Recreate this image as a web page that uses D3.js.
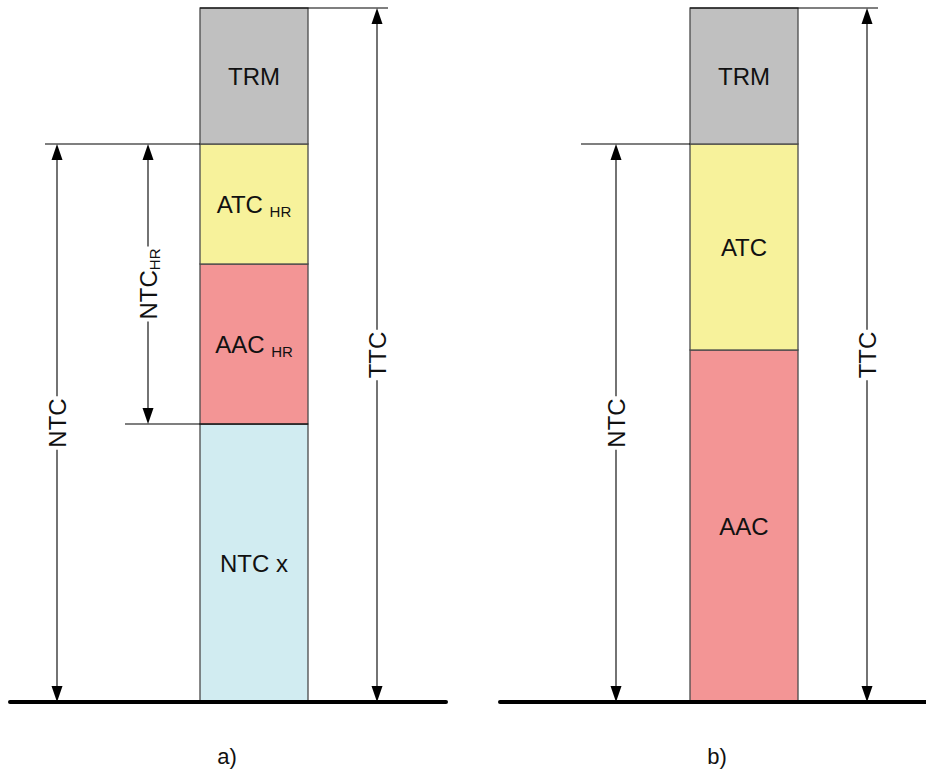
<!DOCTYPE html>
<html><head><meta charset="utf-8">
<script src="https://cdn.jsdelivr.net/npm/d3@7"></script>
<style>
html,body{margin:0;padding:0;background:#fff;}
text{font-family:"Liberation Sans",Arial,sans-serif;fill:#111;}
</style>
</head><body>
<svg id="chart" width="926" height="769"></svg>
<script>
// ---- data ----
const panels = ["a)", "b)"];
// panel a: stacked from bottom
const segKeysA = ["NTC", "AAC", "ATC", "TRM"];
const segLabelsA = [["NTC x", ""], ["AAC ", "HR"], ["ATC ", "HR"], ["TRM", ""]];
const segValuesA = [278, 160, 120, 136];
// panel b
const segKeysB = ["AAC", "ATC", "TRM"];
const segLabelsB = [["AAC", ""], ["ATC", ""], ["TRM", ""]];
const segValuesB = [352, 206, 136];
const colors = {NTC: "#d1ecf1", AAC: "#f39595", ATC: "#f7f29b", TRM: "#c0c0c0"};

const svg = d3.select("#chart");
const totalMax = d3.max([d3.sum(segValuesA), d3.sum(segValuesB)]);
const y = d3.scaleLinear().domain([0, totalMax]).range([702, 8]);
const x = d3.scalePoint().domain(panels).range([254, 744]);
const barW = 108;

function arrowHead(g, px, py, dir) {
  // dir: -1 pointing up, +1 pointing down; tip at (px,py)
  const L = 16, hw = 5.5;
  g.append("path")
    .attr("d", `M${px},${py} L${px - hw},${py - dir * L} L${px + hw},${py - dir * L} Z`)
    .attr("fill", "#000");
}

function dimension(g, px, y0, y1, main, sub) {
  // y0 bottom (pixel), y1 top (pixel)
  const mid = (y0 + y1) / 2;
  const t = g.append("text")
    .attr("transform", `translate(${px},${mid}) rotate(-90)`)
    .attr("text-anchor", "middle")
    .attr("dy", "0.36em")
    .style("font-size", "24px");
  t.append("tspan").text(main);
  if (sub) t.append("tspan").text(sub).style("font-size", "15px").attr("dy", 3);
  const len = t.node().getComputedTextLength();
  const gap = len / 2 + 2;
  g.append("line").attr("x1", px).attr("x2", px).attr("y1", y1 + 14).attr("y2", mid - gap)
    .attr("stroke", "#000").attr("stroke-width", 1.1);
  g.append("line").attr("x1", px).attr("x2", px).attr("y1", mid + gap).attr("y2", y0 - 14)
    .attr("stroke", "#000").attr("stroke-width", 1.1);
  arrowHead(g, px, y1, -1);
  arrowHead(g, px, y0, 1);
}

function hline(g, x1, x2, yy) {
  g.append("line").attr("x1", x1).attr("x2", x2).attr("y1", yy).attr("y2", yy)
    .attr("stroke", "#000").attr("stroke-width", 1.2);
}

function drawPanel(name, keys, labels, values, ntcOffset, ntcLineOffset, hasHR) {
  const cx = x(name);
  const g = svg.append("g");
  const ends = d3.cumsum(values);
  const starts = ends.map((e, i) => e - values[i]);
  const total = ends[ends.length - 1];
  const trm = values[values.length - 1];

  // segments
  const segs = g.selectAll("g.seg").data(values.map((v, i) => ({k: keys[i], lab: labels[i], s: starts[i], e: ends[i]})))
    .enter().append("g");
  segs.append("rect")
    .attr("x", cx - barW / 2).attr("width", barW)
    .attr("y", d => y(d.e)).attr("height", d => y(d.s) - y(d.e))
    .attr("fill", d => colors[d.k]).attr("stroke", "#4a4a4a").attr("stroke-width", 1.3);
  const st = segs.append("text")
    .attr("x", cx).attr("y", d => (y(d.s) + y(d.e)) / 2)
    .attr("dy", "0.36em").attr("text-anchor", "middle").style("font-size", "24px");
  st.append("tspan").text(d => d.lab[0]);
  st.filter(d => d.lab[1]).append("tspan").text(d => d.lab[1]).style("font-size", "15px").attr("dy", 4);

  // reference lines
  hline(g, cx - barW / 2, cx + 134, y(total));
  hline(g, cx + ntcLineOffset, cx - barW / 2, y(total - trm));
  if (hasHR) hline(g, cx - 129, cx + barW / 2, y(values[0]));

  // dimensions
  dimension(g, cx + 123, y(0), y(total), "TTC");
  dimension(g, cx + ntcOffset, y(0), y(total - trm), "NTC");
  if (hasHR) dimension(g, cx - 106, y(values[0]), y(total - trm), "NTC", "HR");

  // baseline
  g.append("line").attr("x1", cx - 244).attr("x2", cx + 192).attr("y1", y(0)).attr("y2", y(0))
    .attr("stroke", "#000").attr("stroke-width", 4).attr("stroke-linecap", "round");

  // panel label
  g.append("text").attr("x", cx - 27).attr("y", 764).attr("text-anchor", "middle")
    .style("font-size", "22px").text(name);
}

drawPanel("a)", segKeysA, segLabelsA, segValuesA, -197, -209, true);
drawPanel("b)", segKeysB, segLabelsB, segValuesB, -128, -163, false);
</script>
</body></html>
